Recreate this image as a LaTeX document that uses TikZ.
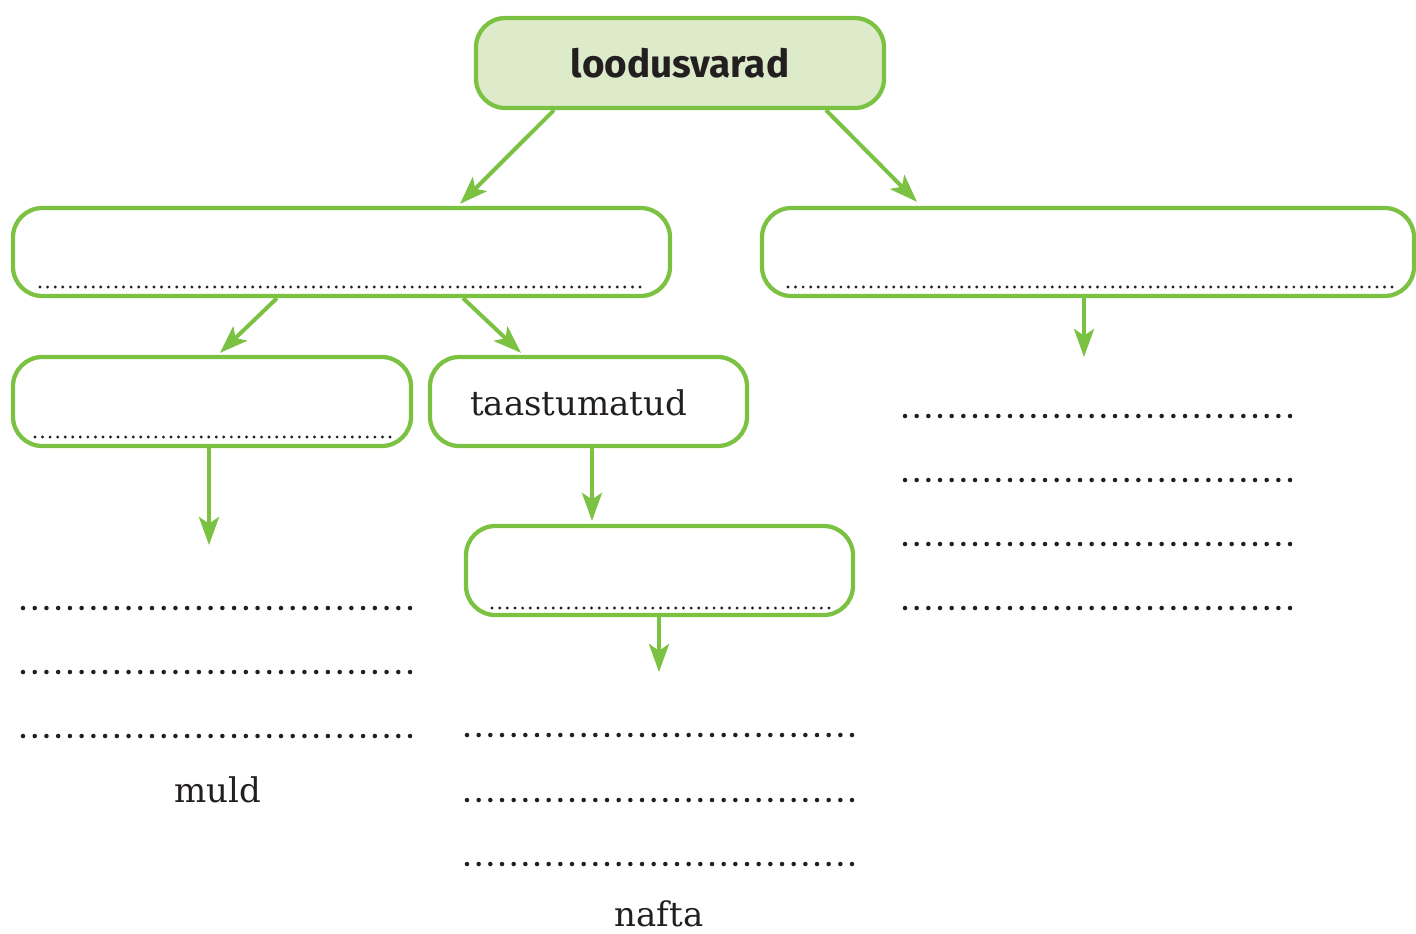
\documentclass[tikz,border=0pt]{standalone}
\usepackage{fontspec}
\newfontfamily\titlefont{Fira Sans}
\newfontfamily\bodyfont{DejaVu Serif}
\usetikzlibrary{arrows.meta,calc,fit}
\definecolor{gr}{RGB}{124,194,66}
\definecolor{grfill}{RGB}{221,235,203}
\definecolor{ink}{RGB}{35,31,32}
\newcommand\dotrow[5]{% x start, x end, y, intervals, radius
  \pgfmathsetmacro\dstep{(#2-#1)/#4}%
  \foreach \i in {0,...,#4}{\fill[ink] ({#1+\dstep*\i},#3) circle[radius=#5];}}
\begin{document}
\begin{tikzpicture}[x=0.75pt,y=-0.75pt,
  box/.style={draw=gr, line width=3.2pt, rounded corners=22pt, inner sep=0pt},
  arr/.style={draw=gr, line width=3pt, -{Stealth[length=21pt,width=15pt,inset=5pt]}},
  lbl/.style={text=ink, inner sep=0pt, font=\bodyfont\fontsize{25.5}{30}\selectfont}]
\useasboundingbox (0,0) rectangle (1416,933);
% boxes
\node[box, fill=grfill, fit={(476,18) (884,108)}] (top) {};
\node[box, fit={(13,208) (670,296)}] (L1) {};
\node[box, fit={(762,208) (1414,296)}] (R1) {};
\node[box, fit={(13,357) (411,446)}] (L2a) {};
\node[box, fit={(430,357) (747,446)}] (L2b) {};
\node[box, fit={(466,526) (853,615)}] (L3) {};
% texts
\node[lbl, font=\titlefont\bfseries\fontsize{29}{34}\selectfont, anchor=base] (title) at (680,77) {loodusvarad};
\node[lbl, anchor=base west] (taast) at (470,415) {taastumatud};
\node[lbl, anchor=base] (muld) at (218,802) {muld};
\node[lbl, anchor=base] (nafta) at (659,926) {nafta};
% free arrow ends
\coordinate (r1end) at (1084,357);
\coordinate (aend) at (209,545);
\coordinate (bend) at (659,672);
% arrows
\draw[arr] ($(top.south)+(-126,0)$) -- ($(L1.north)+(118.5,-2)$);
\draw[arr] ($(top.south)+(146,0)$) -- ($(R1.north)+(-171,-4)$);
\draw[arr] ($(L1.south)+(-64.5,0)$) -- ($(L2a.north)+(8,-2)$);
\draw[arr] ($(L1.south)+(121.5,0)$) -- ($(L2b.north)+(-67.5,-2)$);
\draw[arr] ($(R1.south)+(-4,0)$) -- (r1end);
\draw[arr] ($(L2a.south)+(-3,0)$) -- (aend);
\draw[arr] ($(L2b.south)+(3.5,0)$) -- ($(L3.north)+(-67.5,-3)$);
\draw[arr] ($(L3.south)+(-0.5,0)$) -- (bend);
% dotted blanks inside boxes
\dotrow{40}{640}{287}{79}{1.2pt}
\dotrow{788}{1392}{287}{80}{1.2pt}
\dotrow{35}{390}{437}{47}{1.2pt}
\dotrow{492}{829}{608}{44}{1.2pt}
% dotted answer rows
\foreach \y in {608,672,736}{\dotrow{23}{410}{\y}{33}{1.7pt}}
\foreach \y in {735,800,864}{\dotrow{467}{852}{\y}{33}{1.7pt}}
\foreach \y in {416,480,544,608}{\dotrow{905}{1290}{\y}{33}{1.7pt}}
\end{tikzpicture}
\end{document}
